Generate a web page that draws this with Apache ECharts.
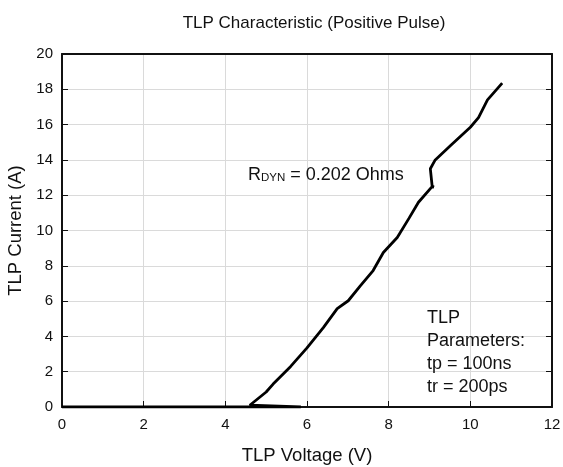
<!DOCTYPE html>
<html>
<head>
<meta charset="utf-8">
<script src="https://cdn.jsdelivr.net/npm/echarts@6/dist/echarts.min.js"></script>
<style>
  html, body { margin: 0; padding: 0; background: #fff; }
  #main { width: 563px; height: 467px; }
</style>
</head>
<body>
<div id="main"></div>
<script>
// TLP voltage (V) / current (A) pairs
var voltage = [0, 5.85, 4.6, 5.0, 5.17, 5.6, 6.0, 6.4, 6.74, 7.01, 7.3, 7.62, 7.87, 8.21, 8.5, 8.73, 9.09, 9.07, 9.02, 9.14, 9.51, 10.0, 10.2, 10.42, 10.78];
var current = [0, 0, 0.1, 0.85, 1.3, 2.3, 3.35, 4.5, 5.57, 6.02, 6.85, 7.73, 8.75, 9.6, 10.7, 11.6, 12.56, 12.4, 13.5, 14.0, 14.8, 15.85, 16.4, 17.4, 18.35];
var xTicks = [0, 2, 4, 6, 8, 10, 12];
var yTicks = [0, 2, 4, 6, 8, 10, 12, 14, 16, 18, 20];

var points = voltage.map(function (v, i) { return [v, current[i]]; });
var font = 'Liberation Sans, Arial, sans-serif';

var myChart = echarts.init(document.getElementById('main'));
var option = {
  animation: false,
  title: {
    text: 'TLP Characteristic (Positive Pulse)',
    left: 309,
    textAlign: 'center',
    top: 10,
    textStyle: { fontFamily: font, fontSize: 17, fontWeight: 'normal', color: '#111' }
  },
  grid: { left: 62, right: 11, top: 54, bottom: 60, outerBoundsMode: 'none' },
  xAxis: [
    {
      type: 'value', min: xTicks[0], max: xTicks[xTicks.length - 1], interval: 2,
      name: 'TLP Voltage (V)', nameLocation: 'middle', nameGap: 39,
      nameTextStyle: { fontFamily: font, fontSize: 18.5, color: '#111' },
      axisLine: { show: true, onZero: false, lineStyle: { color: '#111', width: 2 } },
      axisTick: { show: true, inside: true, length: 6, lineStyle: { color: '#111' } },
      axisLabel: { fontFamily: font, fontSize: 15, color: '#111', margin: 10 },
      splitLine: { show: true, lineStyle: { color: '#dadada', width: 1 } }
    },
    {
      type: 'value', position: 'top', min: 0, max: 12, interval: 2,
      axisLine: { show: true, onZero: false, lineStyle: { color: '#111', width: 2 } },
      axisTick: { show: false }, axisLabel: { show: false }, splitLine: { show: false }
    }
  ],
  yAxis: [
    {
      type: 'value', min: yTicks[0], max: yTicks[yTicks.length - 1], interval: 2,
      name: 'TLP Current (A)', nameLocation: 'middle', nameGap: 34,
      nameTextStyle: { fontFamily: font, fontSize: 18.5, color: '#111' },
      axisLine: { show: true, onZero: false, lineStyle: { color: '#111', width: 2 } },
      axisTick: { show: true, inside: true, length: 6, lineStyle: { color: '#111' } },
      axisLabel: { fontFamily: font, fontSize: 15, color: '#111', margin: 9 },
      splitLine: { show: true, lineStyle: { color: '#dadada', width: 1 } }
    },
    {
      type: 'value', position: 'right', min: 0, max: 20, interval: 2,
      axisLine: { show: true, onZero: false, lineStyle: { color: '#111', width: 2 } },
      axisTick: { show: true, inside: true, length: 6, lineStyle: { color: '#111' } },
      axisLabel: { show: false }, splitLine: { show: false }
    }
  ],
  series: [
    {
      type: 'line',
      data: points,
      showSymbol: false,
      lineStyle: { color: '#000', width: 2.8 },
      z: 5
    }
  ],
  graphic: [
    {
      type: 'text', left: 248, top: 166, z: 10,
      style: {
        text: '{r|R}{s|DYN}{r| = 0.202 Ohms}',
        rich: {
          r: { fontFamily: font, fontSize: 18, fill: '#111' },
          s: { fontFamily: font, fontSize: 11.5, fill: '#111', verticalAlign: 'bottom', padding: [6, 0, 0, 0] }
        }
      }
    },
    {
      type: 'text', left: 427, top: 307, z: 10,
      style: {
        text: 'TLP\nParameters:\ntp = 100ns\ntr = 200ps',
        fontFamily: font, fontSize: 18, lineHeight: 23, fill: '#111'
      }
    }
  ]
};
myChart.setOption(option);
</script>
</body>
</html>
